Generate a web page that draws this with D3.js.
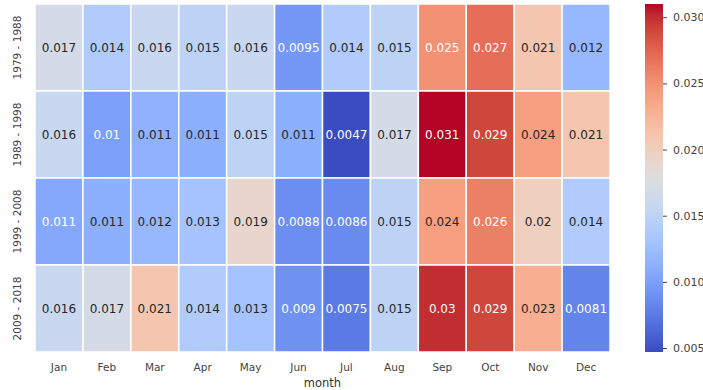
<!DOCTYPE html>
<html>
<head>
<meta charset="utf-8">
<script src="https://cdn.jsdelivr.net/npm/d3@7"></script>
<style>
  body { margin: 0; background: #fff; }
  text { font-family: "DejaVu Sans", sans-serif; }
</style>
</head>
<body>
<svg id="chart" width="703" height="390"></svg>
<script>
var months = ["Jan", "Feb", "Mar", "Apr", "May", "Jun", "Jul", "Aug", "Sep", "Oct", "Nov", "Dec"];
var periods = ["1979 - 1988", "1989 - 1998", "1999 - 2008", "2009 - 2018"];

var row1979 = [0.0170, 0.0140, 0.0160, 0.0150, 0.0160, 0.0095, 0.0140, 0.0150, 0.0250, 0.0270, 0.0210, 0.0120];
var row1989 = [0.0160, 0.0100, 0.0114, 0.0113, 0.0150, 0.0113, 0.0047, 0.0170, 0.0310, 0.0290, 0.0240, 0.0210];
var row1999 = [0.0107, 0.0113, 0.0120, 0.0130, 0.0190, 0.0088, 0.0086, 0.0150, 0.0240, 0.0260, 0.0200, 0.0140];
var row2009 = [0.0160, 0.0170, 0.0210, 0.0140, 0.0130, 0.0090, 0.0075, 0.0150, 0.0300, 0.0290, 0.0230, 0.0081];
var rows = [row1979, row1989, row1999, row2009];

var cbTicks = [0.005, 0.010, 0.015, 0.020, 0.025, 0.030];

/* coolwarm kleurenschaal (Moreland) */
var coolwarm = ["#3b4cc0", "#445acc", "#4d68d7", "#5775e1", "#6282ea", "#6c8ef1", "#779af7", "#82a5fb",
  "#8db0fe", "#98b9ff", "#a3c2ff", "#aec9fd", "#b8d0f9", "#c2d5f4", "#ccd9ee", "#d5dbe6", "#dddddd",
  "#e5d8d1", "#ecd3c5", "#f1ccb9", "#f5c4ad", "#f7bba0", "#f7b194", "#f7a687", "#f49a7b", "#f18d6f",
  "#ec7f63", "#e57058", "#de604d", "#d55042", "#cb3e38", "#c0282f", "#b40426"];

var vmin = 0.0047, vmax = 0.031;

var svg = d3.select("#chart");

var x = d3.scaleBand().domain(months).range([35, 610]);
var y = d3.scaleBand().domain(periods).range([4, 352]);

var color = d3.scaleLinear()
  .domain(coolwarm.map(function(c, i) { return vmin + (vmax - vmin) * i / (coolwarm.length - 1); }))
  .range(coolwarm)
  .interpolate(d3.interpolateRgb)
  .clamp(true);

var fmt = d3.format(".2~g");

/* cellen opbouwen */
var cells = [];
rows.forEach(function(r, i) {
  r.forEach(function(v, j) {
    cells.push({period: periods[i], month: months[j], value: v});
  });
});

/* zelfde regel als seaborn: lichte cel -> donkere tekst */
function textColor(v) {
  var c = d3.rgb(color(v));
  var lum = [c.r, c.g, c.b].map(function(u) {
    u = u / 255;
    return u <= 0.03928 ? u / 12.92 : Math.pow((u + 0.055) / 1.055, 2.4);
  });
  var l = 0.2126 * lum[0] + 0.7152 * lum[1] + 0.0722 * lum[2];
  return l > 0.408 ? "#262626" : "#ffffff";
}

var cell = svg.append("g").selectAll("g")
  .data(cells)
  .enter()
  .append("g");

cell.append("rect")
  .attr("x", function(d) { return x(d.month); })
  .attr("y", function(d) { return y(d.period); })
  .attr("width", x.bandwidth())
  .attr("height", y.bandwidth())
  .attr("fill", function(d) { return color(d.value); })
  .attr("stroke", "#fff")
  .attr("stroke-width", 1.5);

cell.append("text")
  .attr("x", function(d) { return x(d.month) + x.bandwidth() / 2; })
  .attr("y", function(d) { return y(d.period) + y.bandwidth() / 2; })
  .attr("dy", "0.35em")
  .attr("text-anchor", "middle")
  .attr("font-size", 12)
  .attr("fill", function(d) { return textColor(d.value); })
  .text(function(d) { return fmt(d.value); });

/* as-labels */
svg.append("g").selectAll("text")
  .data(months)
  .enter()
  .append("text")
  .attr("x", function(d) { return x(d) + x.bandwidth() / 2; })
  .attr("y", 371)
  .attr("text-anchor", "middle")
  .attr("font-size", 10.5)
  .attr("fill", "#444")
  .text(function(d) { return d; });

svg.append("text")
  .attr("x", (35 + 610) / 2)
  .attr("y", 387)
  .attr("text-anchor", "middle")
  .attr("font-size", 11.5)
  .attr("fill", "#333")
  .text("month");

svg.append("g").selectAll("text")
  .data(periods)
  .enter()
  .append("text")
  .attr("transform", function(d) {
    return "translate(21," + (y(d) + y.bandwidth() / 2) + ") rotate(-90)";
  })
  .attr("text-anchor", "middle")
  .attr("font-size", 10.5)
  .attr("fill", "#444")
  .text(function(d) { return d; });

/* kleurenbalk */
var defs = svg.append("defs");
var grad = defs.append("linearGradient")
  .attr("id", "cw")
  .attr("x1", "0").attr("y1", "1").attr("x2", "0").attr("y2", "0");
grad.selectAll("stop")
  .data(coolwarm)
  .enter()
  .append("stop")
  .attr("offset", function(d, i) { return i / (coolwarm.length - 1); })
  .attr("stop-color", function(d) { return d; });

var cbY = d3.scaleLinear().domain([vmin, vmax]).range([352, 4]);

svg.append("rect")
  .attr("x", 645)
  .attr("y", 4)
  .attr("width", 18)
  .attr("height", 348)
  .attr("fill", "url(#cw)");

var cbAxis = d3.axisRight(cbY)
  .tickValues(cbTicks)
  .tickFormat(d3.format(".3f"))
  .tickSize(4)
  .tickPadding(6);

var cbG = svg.append("g")
  .attr("transform", "translate(663,0)")
  .call(cbAxis);
cbG.select(".domain").remove();
cbG.selectAll("line").attr("stroke", "#444");
cbG.selectAll("text")
  .attr("font-size", 11)
  .attr("fill", "#444")
  .style("font-family", "DejaVu Sans, sans-serif");
</script>
</body>
</html>
